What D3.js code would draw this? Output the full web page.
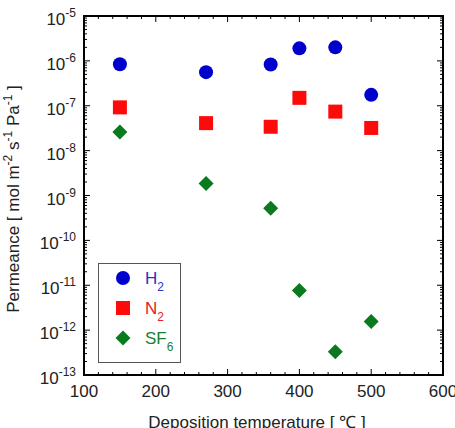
<!DOCTYPE html>
<html lang="en">
<head>
<meta charset="utf-8">
<title>Permeance</title>
<script src="https://cdn.jsdelivr.net/npm/d3@7"></script>
<style>
  body { margin: 0; background: #fff; }
  svg { display: block; }
  text { font-family: Arial, "Liberation Sans", sans-serif; fill: #222; }
</style>
</head>
<body>
<script>
// data
var temps  = [150, 270, 360, 400, 450, 500];
var h2     = [8.4e-7, 5.6e-7, 8.3e-7, 1.9e-6, 2.0e-6, 1.75e-7];
var n2     = [9.2e-8, 4.1e-8, 3.4e-8, 1.5e-7, 7.4e-8, 3.2e-8];
var sf6    = [2.6e-8, 1.85e-9, 5.2e-10, 7.6e-12, 3.3e-13, 1.55e-12];
var xTicks = [100, 200, 300, 400, 500, 600];
var yExps  = [-5, -6, -7, -8, -9, -10, -11, -12, -13];

var w = 455, h = 428;
// plot box (note: "top" is reserved on window, so use other names)
var pL = 84, pR = 443, pT = 16, pB = 375;

var svg = d3.select("body").append("svg").attr("width", w).attr("height", h);

var x = d3.scaleLinear().domain([100, 600]).range([pL, pR]);
var y = d3.scaleLog().domain([1e-13, 1e-5]).range([pB, pT]);

var g = svg.append("g");

// x ticks (major every 100, minor every 20), bottom and top, pointing in
d3.range(100, 601, 20).forEach(function(v) {
  var len = (v % 100 === 0) ? 6 : 3;
  g.append("line").attr("x1", x(v)).attr("x2", x(v)).attr("y1", pB).attr("y2", pB - len)
    .attr("stroke", "#000").attr("stroke-width", 1);
  g.append("line").attr("x1", x(v)).attr("x2", x(v)).attr("y1", pT).attr("y2", pT + len)
    .attr("stroke", "#000").attr("stroke-width", 1);
});

// y ticks, log minor 2..9
for (var e = -13; e <= -5; e++) {
  for (var m = 1; m <= 9; m++) {
    if (e === -5 && m > 1) break;
    var v = m * Math.pow(10, e);
    var len = (m === 1) ? 6 : 3;
    g.append("line").attr("x1", pL).attr("x2", pL + len).attr("y1", y(v)).attr("y2", y(v))
      .attr("stroke", "#000").attr("stroke-width", 1);
    g.append("line").attr("x1", pR).attr("x2", pR - len).attr("y1", y(v)).attr("y2", y(v))
      .attr("stroke", "#000").attr("stroke-width", 1);
  }
}

// frame
svg.append("rect").attr("x", pL).attr("y", pT)
  .attr("width", pR - pL).attr("height", pB - pT)
  .attr("fill", "none").attr("stroke", "#000").attr("stroke-width", 2);

// tick labels
svg.selectAll(".xl").data(xTicks).enter().append("text")
  .attr("x", function(d) { return x(d); })
  .attr("y", 397)
  .attr("text-anchor", "middle")
  .attr("font-size", 17)
  .text(function(d) { return d; });

yExps.forEach(function(e) {
  var t = svg.append("text")
    .attr("x", 76).attr("y", y(Math.pow(10, e)) + 9)
    .attr("text-anchor", "end").attr("font-size", 17);
  t.append("tspan").text("10");
  t.append("tspan").attr("dy", -8).attr("font-size", 12).text(e);
});

// axis titles
svg.append("text")
  .attr("x", 257).attr("y", 428)
  .attr("text-anchor", "middle").attr("font-size", 17)
  .text("Deposition temperature [ \u2103 ]");

var yl = svg.append("text")
  .attr("transform", "translate(19,199) rotate(-90)")
  .attr("text-anchor", "middle").attr("font-size", 17);
yl.append("tspan").text("Permeance [ mol m");
yl.append("tspan").attr("dy", -7).attr("font-size", 12).text("-2");
yl.append("tspan").attr("dy", 7).text(" s");
yl.append("tspan").attr("dy", -7).attr("font-size", 12).text("-1");
yl.append("tspan").attr("dy", 7).text(" Pa");
yl.append("tspan").attr("dy", -7).attr("font-size", 12).text("-1");
yl.append("tspan").attr("dy", 7).text(" ]");

// markers
var blue = "#0000cc", red = "#ff0a0a", green = "#0a7a1e";
var circle = d3.symbol().type(d3.symbolCircle).size(Math.PI * 7 * 7);
var square = d3.symbol().type(d3.symbolSquare).size(14 * 14);
var diamond = "M0,-7.5L7.5,0L0,7.5L-7.5,0Z";

function pts(vals) { return temps.map(function(t, i) { return [t, vals[i]]; }); }

svg.selectAll(".h2").data(pts(h2)).enter().append("path")
  .attr("d", circle()).attr("fill", blue)
  .attr("transform", function(d) { return "translate(" + x(d[0]) + "," + y(d[1]) + ")"; });
svg.selectAll(".n2").data(pts(n2)).enter().append("path")
  .attr("d", square()).attr("fill", red)
  .attr("transform", function(d) { return "translate(" + x(d[0]) + "," + y(d[1]) + ")"; });
svg.selectAll(".sf6").data(pts(sf6)).enter().append("path")
  .attr("d", diamond).attr("fill", green)
  .attr("transform", function(d) { return "translate(" + x(d[0]) + "," + y(d[1]) + ")"; });

// legend
var lg = svg.append("g");
lg.append("rect").attr("x", 98.5).attr("y", 263.5).attr("width", 82).attr("height", 99)
  .attr("fill", "#fff").attr("stroke", "#555").attr("stroke-width", 1);
var items = [
  { sym: circle(), color: blue, text: "#3030c8", name: "H", sub: "2" },
  { sym: square(), color: red, text: "#e82020", name: "N", sub: "2" },
  { sym: diamond, color: green, text: "#1a8030", name: "SF", sub: "6" }
];
items.forEach(function(it, i) {
  var cy = 278 + i * 30;
  lg.append("path").attr("d", it.sym).attr("fill", it.color)
    .attr("transform", "translate(123," + cy + ")");
  var t = lg.append("text").attr("x", 145).attr("y", cy + 6).attr("font-size", 17)
    .style("fill", it.text);
  t.append("tspan").text(it.name);
  t.append("tspan").attr("dy", 7).attr("font-size", 12).text(it.sub);
});
</script>
</body>
</html>
